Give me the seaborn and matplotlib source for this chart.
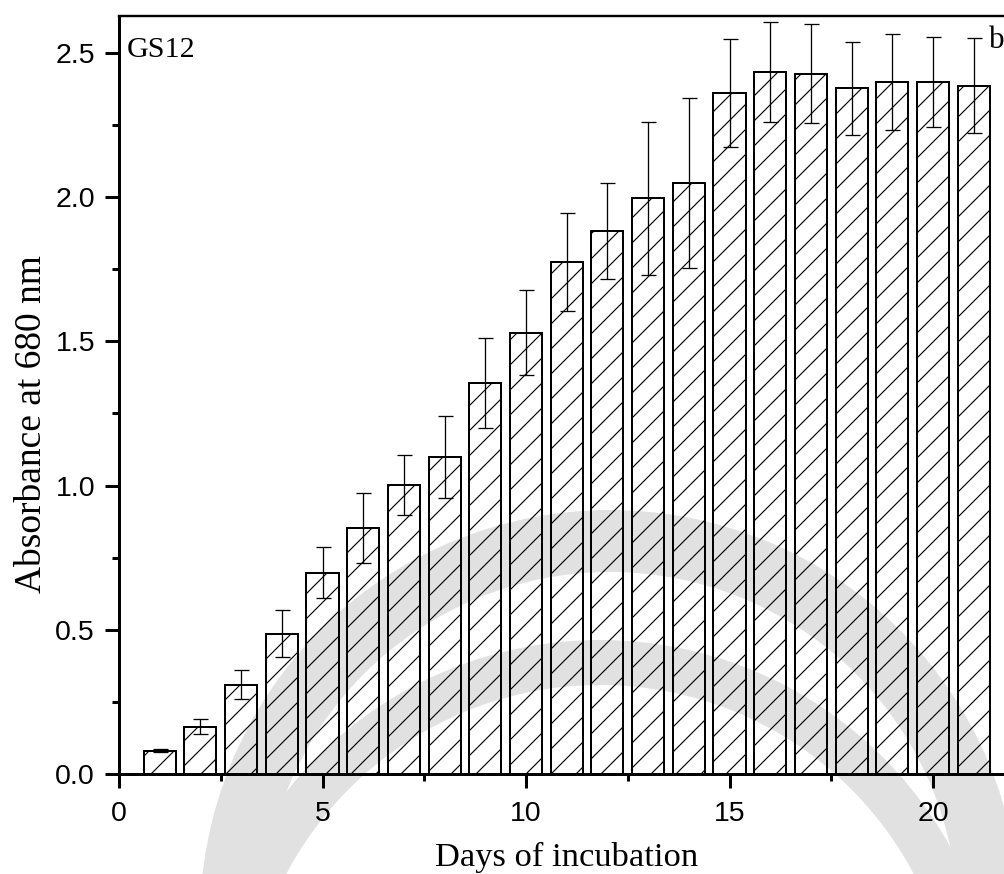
import numpy as np
import pandas as pd
import matplotlib
matplotlib.use("Agg")
import matplotlib.pyplot as plt
from matplotlib.patches import Wedge
from matplotlib.ticker import MultipleLocator
import seaborn as sns

# Growth of isolate GS12: mean absorbance at 680 nm and standard deviation per day
days = list(range(1, 22))
absorbance = [0.080, 0.163, 0.310, 0.487, 0.698, 0.854, 1.002, 1.100, 1.356, 1.530,
              1.776, 1.883, 1.996, 2.049, 2.360, 2.434, 2.428, 2.378, 2.400, 2.400, 2.386]
std_dev = [0.005, 0.026, 0.050, 0.083, 0.088, 0.121, 0.105, 0.142, 0.157, 0.147,
           0.170, 0.165, 0.265, 0.296, 0.187, 0.172, 0.171, 0.161, 0.167, 0.155, 0.165]
x_ticks = [0, 5, 10, 15, 20]
y_ticks = [0.0, 0.5, 1.0, 1.5, 2.0, 2.5]

DPI = 150
W, H = 1004, 874
PT = 72.0 / DPI  # points per pixel

sns.set_style("ticks")
plt.rcParams["font.family"] = ["Liberation Sans", "DejaVu Sans"]
plt.rcParams["hatch.linewidth"] = 1.15 * PT
plt.rcParams["hatch.color"] = "black"
for key in ["text.color", "axes.labelcolor", "axes.edgecolor",
            "xtick.color", "ytick.color", "xtick.labelcolor", "ytick.labelcolor"]:
    plt.rcParams[key] = "black"

df = pd.DataFrame({"day": days, "absorbance": absorbance, "sd": std_dev})

fig = plt.figure(figsize=(W / DPI, H / DPI), dpi=DPI, facecolor="white")

# light grey emblem printed behind the plot
emb_color = "#e1e1e1"
for cx, cy, r, w in [(610, 920, 410, 62), (600, 1040, 400, 45)]:
    ring = Wedge((cx / DPI, (H - cy) / DPI), r / DPI, 0, 360, width=w / DPI,
                 transform=fig.dpi_scale_trans, facecolor=emb_color,
                 edgecolor="none", zorder=-5)
    fig.patches.append(ring)

x_left, px_per_day = 119, 40.7
x_max = 22
y_bottom, y_top = 774, 16
px_per_unit = 288.4
ax = fig.add_axes([x_left / W, (H - y_bottom) / H,
                   x_max * px_per_day / W, (y_bottom - y_top) / H])
ax.set_facecolor("none")

sns.barplot(data=df, x="day", y="absorbance", native_scale=True, width=0.79,
            color="white", edgecolor="black", linewidth=2.0 * PT,
            errorbar=None, ax=ax, zorder=2)
for bar in ax.patches:
    bar.set_facecolor("none")
    bar.set_hatch("//")
    bar.set_edgecolor("black")

ax.errorbar(df["day"], df["absorbance"], yerr=df["sd"], fmt="none",
            ecolor="black", elinewidth=1.3 * PT, capsize=7.5 * PT,
            capthick=1.3 * PT, zorder=3)

ax.set_xlim(0, x_max)
ax.set_ylim(0, (y_bottom - y_top) / px_per_unit)
ax.set_xticks(x_ticks)
ax.set_yticks(y_ticks)
ax.set_xticklabels([str(v) for v in x_ticks])
ax.set_yticklabels([f"{v:.1f}" for v in y_ticks])
ax.xaxis.set_minor_locator(MultipleLocator(2.5))
ax.yaxis.set_minor_locator(MultipleLocator(0.25))

for side in ["left", "bottom"]:
    ax.spines[side].set_linewidth(3.0 * PT)
    ax.spines[side].set_color("black")
ax.spines["top"].set_linewidth(2.4 * PT)
ax.spines["top"].set_color("black")
ax.spines["right"].set_visible(False)
ax.spines["top"].set_visible(True)

ax.tick_params(axis="both", which="major", direction="out", length=14 * PT,
               width=3.0 * PT, labelsize=28.5 * PT, colors="black")
ax.tick_params(axis="both", which="minor", direction="out", length=7 * PT,
               width=3.0 * PT, colors="black")
ax.tick_params(axis="y", which="major", pad=10 * PT)
ax.tick_params(axis="x", which="major", pad=13 * PT)
ax.tick_params(top=False, right=False, which="both")

serif = ["Liberation Serif", "DejaVu Serif"]
ax_w = x_max * px_per_day
ax_h = y_bottom - y_top
ax.set_xlabel("Days of incubation", family=serif, fontsize=34.5 * PT, color="black")
ax.xaxis.label.set_va("baseline")
ax.xaxis.set_label_coords(0.5, (y_bottom - 866) / ax_h)
ax.set_ylabel("Absorbance at 680 nm", family=serif, fontsize=37.5 * PT, color="black")
ax.yaxis.label.set_va("baseline")
ax.yaxis.label.set_rotation_mode("anchor")
ax.yaxis.set_label_coords((41 - x_left) / ax_w, (y_bottom - 424) / ax_h)

fig.text(127 / W, (H - 57) / H, "GS12", family=serif, fontsize=30 * PT,
         ha="left", va="baseline", color="black")
fig.text(989 / W, (H - 48) / H, "b", family=serif, fontsize=31 * PT,
         ha="left", va="baseline", color="black")

fig.savefig("out.png", dpi=DPI, facecolor="white")
